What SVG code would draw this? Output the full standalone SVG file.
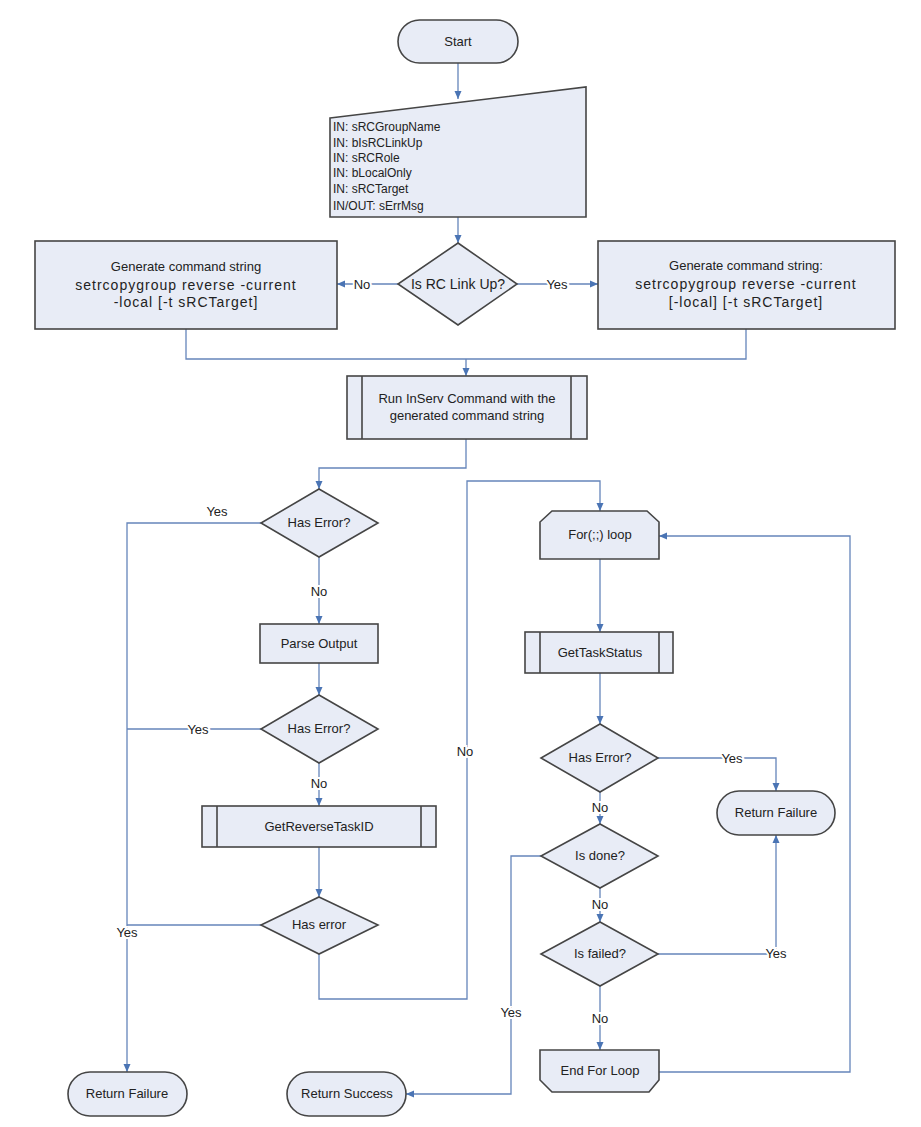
<svg xmlns="http://www.w3.org/2000/svg" width="921" height="1127" viewBox="0 0 921 1127">
<style>
.n{fill:#e8ecf6;stroke:#454545;stroke-width:1.6}
.il{stroke:#454545;stroke-width:1.6;fill:none}
.t{font-family:"Liberation Sans",Arial,sans-serif;font-size:13px;fill:#222;text-anchor:middle}
.ts{font-family:"Liberation Sans",Arial,sans-serif;font-size:12px;fill:#222}
.tb{font-family:"Liberation Sans",Arial,sans-serif;font-size:14px;fill:#222;text-anchor:middle;letter-spacing:1px}
.c{fill:none;stroke:#6585ba;stroke-width:1.3}
.a{marker-end:url(#ah)}
.l{font-family:"Liberation Sans",Arial,sans-serif;font-size:13px;fill:#222;text-anchor:middle;stroke:#fff;stroke-width:4;paint-order:stroke}
</style>
<defs>
<marker id="ah" markerUnits="userSpaceOnUse" markerWidth="10" markerHeight="10" refX="9" refY="5" orient="auto">
<path d="M1,1.5 L9,5 L1,8.5 z" fill="#4a74b4"/>
</marker>
</defs>
<rect width="921" height="1127" fill="#fff"/>
<g id="connectors">
<path class="c a" d="M458,63 V99"/>
<path class="c a" d="M458,217 V243"/>
<path class="c a" d="M398,284 H337"/>
<path class="c a" d="M517,284 H598"/>
<path class="c" d="M186,329 V359 H746 V329"/>
<path class="c a" d="M466,359 V376"/>
<path class="c a" d="M466,439 V468 H319 V489"/>
<path class="c a" d="M319,557 V624"/>
<path class="c a" d="M261,523 H127 V1072"/>
<path class="c a" d="M319,663 V695"/>
<path class="c" d="M261,729 H127"/>
<path class="c a" d="M319,763 V806"/>
<path class="c a" d="M319,847 V897"/>
<path class="c" d="M261,925 H127"/>
<path class="c a" d="M319,954 V999 H467 V481 H600 V511"/>
<path class="c a" d="M600,559 V632"/>
<path class="c a" d="M600,673 V724"/>
<path class="c a" d="M658,758 H776 V791"/>
<path class="c a" d="M600,792 V824"/>
<path class="c a" d="M541,856 H511 V1094 H406"/>
<path class="c a" d="M600,888 V922"/>
<path class="c a" d="M658,954 H776 V835"/>
<path class="c a" d="M600,986 V1050"/>
<path class="c a" d="M659,1072 H850 V536 H659"/>
<text class="l" x="362" y="289">No</text>
<text class="l" x="557" y="289">Yes</text>
<text class="l" x="217" y="516" style="stroke:none">Yes</text>
<text class="l" x="319" y="596">No</text>
<text class="l" x="198" y="734">Yes</text>
<text class="l" x="319" y="788">No</text>
<text class="l" x="127" y="937">Yes</text>
<text class="l" x="465" y="756">No</text>
<text class="l" x="732" y="763">Yes</text>
<text class="l" x="600" y="812">No</text>
<text class="l" x="511" y="1017">Yes</text>
<text class="l" x="600" y="909">No</text>
<text class="l" x="776" y="958">Yes</text>
<text class="l" x="600" y="1023">No</text>
</g>
<g id="start">
<rect class="n" x="398" y="20" width="120" height="43" rx="21.5"/>
<text class="t" x="458" y="46">Start</text>
</g>
<g id="inputs">
<polygon class="n" points="330,118 586,87 586,217 330,217"/>
<text class="ts" x="333" y="131">IN: sRCGroupName</text>
<text class="ts" x="333" y="147">IN: bIsRCLinkUp</text>
<text class="ts" x="333" y="162">IN: sRCRole</text>
<text class="ts" x="333" y="177">IN: bLocalOnly</text>
<text class="ts" x="333" y="193">IN: sRCTarget</text>
<text class="ts" x="333" y="210">IN/OUT: sErrMsg</text>
</g>
<g id="linkup">
<polygon class="n" points="458,243 517,284 458,325 398,284"/>
<text class="t" x="458" y="289" style="font-size:14px">Is RC Link Up?</text>
</g>
<g id="cmdlocal">
<rect class="n" x="35" y="241" width="302" height="88"/>
<text class="t" x="186" y="271">Generate command string</text>
<text class="tb" x="186" y="290">setrcopygroup reverse -current</text>
<text class="tb" x="186" y="307">-local [-t sRCTarget]</text>
</g>
<g id="cmdremote">
<rect class="n" x="598" y="241" width="297" height="88"/>
<text class="t" x="746" y="270">Generate command string:</text>
<text class="tb" x="746" y="289">setrcopygroup reverse -current</text>
<text class="tb" x="746" y="307">[-local] [-t sRCTarget]</text>
</g>
<g id="runcmd">
<rect class="n" x="347" y="376" width="240" height="63"/>
<path class="il" d="M362,376 V439 M571,376 V439"/>
<text class="t" x="467" y="403">Run InServ Command with the</text>
<text class="t" x="467" y="420">generated command string</text>
</g>
<g id="haserror1">
<polygon class="n" points="319,489 378,523 319,557 261,523"/>
<text class="t" x="319" y="527">Has Error?</text>
</g>
<g id="parse">
<rect class="n" x="260" y="624" width="118" height="39"/>
<text class="t" x="319" y="648">Parse Output</text>
</g>
<g id="haserror2">
<polygon class="n" points="319,695 378,729 319,763 261,729"/>
<text class="t" x="319" y="733">Has Error?</text>
</g>
<g id="getreverse">
<rect class="n" x="202" y="806" width="234" height="41"/>
<path class="il" d="M217,806 V847 M421,806 V847"/>
<text class="t" x="319" y="831">GetReverseTaskID</text>
</g>
<g id="haserror3">
<polygon class="n" points="319,897 378,925 319,954 261,925"/>
<text class="t" x="319" y="929">Has error</text>
</g>
<g id="retfail1">
<rect class="n" x="68" y="1072" width="119" height="44" rx="22"/>
<text class="t" x="127" y="1098">Return Failure</text>
</g>
<g id="retsuccess">
<rect class="n" x="287" y="1072" width="119" height="44" rx="22"/>
<text class="t" x="347" y="1098">Return Success</text>
</g>
<g id="forloop">
<polygon class="n" points="552,511 647,511 659,522 659,559 540,559 540,522"/>
<text class="t" x="600" y="539">For(;;) loop</text>
</g>
<g id="gettaskstatus">
<rect class="n" x="525" y="632" width="148" height="41"/>
<path class="il" d="M540,632 V673 M659,632 V673"/>
<text class="t" x="600" y="657">GetTaskStatus</text>
</g>
<g id="haserror4">
<polygon class="n" points="600,724 658,758 600,792 541,758"/>
<text class="t" x="600" y="762">Has Error?</text>
</g>
<g id="retfail2">
<rect class="n" x="717" y="791" width="118" height="44" rx="22"/>
<text class="t" x="776" y="817">Return Failure</text>
</g>
<g id="isdone">
<polygon class="n" points="600,824 658,856 600,888 541,856"/>
<text class="t" x="600" y="860">Is done?</text>
</g>
<g id="isfailed">
<polygon class="n" points="600,922 658,954 600,986 541,954"/>
<text class="t" x="600" y="958">Is failed?</text>
</g>
<g id="endloop">
<polygon class="n" points="540,1050 659,1050 659,1080 649,1092 552,1092 540,1080"/>
<text class="t" x="600" y="1075">End For Loop</text>
</g>
</svg>
